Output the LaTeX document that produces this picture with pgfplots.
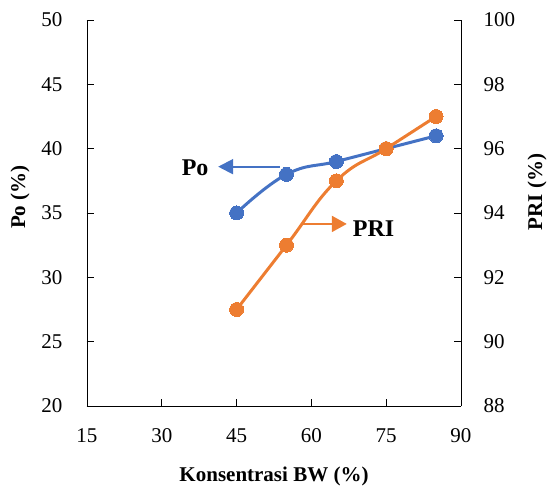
\documentclass[border=0pt]{standalone}
\usepackage{fontspec}
\setmainfont{Liberation Serif}
\usepackage{pgfplots}
\pgfplotsset{compat=1.18}
\usetikzlibrary{arrows.meta}
\definecolor{xlblue}{HTML}{4472C4}
\definecolor{xlorange}{HTML}{ED7D31}
\begin{document}
\begin{tikzpicture}
\begin{axis}[name=ax1,
  scale only axis, width=374pt, height=386pt,
  xmin=15, xmax=90,
  ymin=20, ymax=50,
  xtick={15,30,45,60,75,90}, xticklabels={15,30,45,60,75,90},
  ytick={20,25,30,35,40,45,50}, yticklabels={20,25,30,35,40,45,50},
  axis x line*=bottom, axis y line*=left,
  axis line style={-, black, line width=0.8pt},
  tick align=inside,
  major tick length=7pt,
  every tick/.style={black, line width=0.8pt},
  tick label style={font=\fontsize{21}{25}\selectfont},
  xticklabel style={yshift=-19pt},
  yticklabel style={xshift=-21pt},
  xlabel={Konsentrasi BW (\%)},
  xlabel style={at={(axis description cs:0.5,0)}, anchor=center, yshift=-70pt, font=\fontsize{21}{25}\selectfont\bfseries},
  ylabel={Po (\%)},
  ylabel style={at={(axis description cs:0,0.541)}, anchor=center, yshift=67pt, font=\fontsize{21}{25}\selectfont\bfseries},
]
\pgfplotsinvokeforeach{15,30,45,60,75,90}{
  \draw[black, line width=0.8pt] (axis cs:#1,20) -- ++(0pt,7pt);
}
\pgfplotsinvokeforeach{20,25,30,35,40,45,50}{
  \draw[black, line width=0.8pt] (axis cs:15,#1) -- ++(7pt,0pt);
}
\addplot[xlblue, line width=3pt, smooth, tension=0.75, mark=*, mark size=7pt, mark options={fill=xlblue, draw=xlblue, line width=0pt}]
  coordinates {(45,35) (55,38) (65,39) (75,40) (85,41)};
\draw[xlblue, line width=2pt, -{Triangle[length=15pt, width=15pt]}] (axis cs:53.7,38.6) -- (axis cs:41.3,38.6);
\node[anchor=east, inner sep=0pt, font=\fontsize{24}{28}\selectfont\bfseries] at (axis cs:39.4,38.55) {Po};
\end{axis}
\begin{axis}[
  scale only axis, width=374pt, height=386pt,
  xmin=15, xmax=90,
  ymin=88, ymax=100,
  ytick={88,90,92,94,96,98,100}, yticklabels={88,90,92,94,96,98,100},
  axis y line*=right, axis x line=none,
  axis line style={-, black, line width=0.8pt},
  tick align=inside,
  major tick length=7pt,
  every tick/.style={black, line width=0.8pt},
  tick label style={font=\fontsize{21}{25}\selectfont},
  yticklabel style={xshift=19pt},
  ylabel={PRI (\%)},
  ylabel style={at={(axis description cs:1,0.554)}, anchor=center, yshift=-76pt, font=\fontsize{21}{25}\selectfont\bfseries},
]
\pgfplotsinvokeforeach{88,90,92,94,96,98,100}{
  \draw[black, line width=0.8pt] (axis cs:90,#1) -- ++(-7pt,0pt);
}
\addplot[xlorange, line width=3pt, smooth, tension=0.75, mark=*, mark size=7pt, mark options={fill=xlorange, draw=xlorange, line width=0pt}]
  coordinates {(45,91) (55,93) (65,95) (75,96) (85,97)};
\draw[xlorange, line width=2pt, -{Triangle[length=15pt, width=16pt]}] (axis cs:58.1,93.66) -- (axis cs:67.1,93.66);
\node[anchor=west, inner sep=0pt, font=\fontsize{24}{28}\selectfont\bfseries] at (axis cs:68.3,93.5) {PRI};
\end{axis}
\pgfresetboundingbox
\path[use as bounding box] ([xshift=-87pt,yshift=-82pt]ax1.south west) rectangle ++(547pt,488pt);
\end{tikzpicture}
\end{document}
